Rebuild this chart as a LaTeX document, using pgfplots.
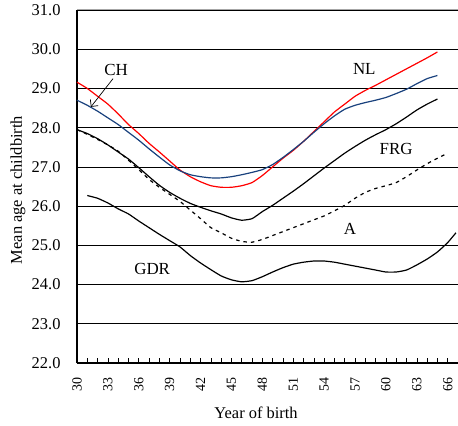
\documentclass[border=0pt]{standalone}
\usepackage{pgfplots}
\pgfplotsset{compat=1.18}
\usetikzlibrary{arrows.meta}
\usepackage{fontspec}
\setmainfont{Liberation Serif}
\definecolor{chblue}{RGB}{25,65,125}
\begin{document}
\begin{tikzpicture}
\path[use as bounding box] (-77bp,-63bp) rectangle (381bp,363bp);
\begin{axis}[
  at={(0,0)}, anchor=south west,
  scale only axis, width=381bp, height=353bp,
  xmin=30, xmax=67, ymin=22, ymax=31,
  xtick={30,33,...,66}, minor xtick={30,...,66},
  ytick={22,23,...,31},
  yticklabel={\pgfmathprintnumber[fixed,fixed zerofill,precision=1]{\tick}},
  /pgf/number format/assume math mode=true,
  tick align=inside,
  major tick length=5bp, minor tick length=5bp,
  ytick style={draw=none},
  xtick style={black, line width=0.6pt},
  minor x tick style={black, line width=0.6pt},
  xticklabel style={rotate=90, anchor=east, font=\fontsize{14}{14}\selectfont},
  yticklabel style={font=\fontsize{16.5}{16.5}\selectfont},
  xticklabel shift=11bp, yticklabel shift=13bp,
  ymajorgrids, grid style={black, line width=0.6pt},
  axis x line*=bottom, axis y line*=left,
  axis line style={black, line width=1.3pt},
  x axis line style={-}, y axis line style={-},
  xlabel={Year of birth}, ylabel={Mean age at childbirth},
  label style={font=\fontsize{16.5}{16.5}\selectfont},
  xlabel style={at={(axis description cs:0.47,0)}, anchor=base, yshift=-55bp},
  ylabel style={at={(axis description cs:-0.1444,0.49)}, anchor=base},
  clip=false,
]
\draw[gray!70, line width=1pt] (axis cs:30,31) -- (axis cs:67,31);
% NL
\addplot[red, line width=1.2pt, smooth, tension=0.3] coordinates {
(30,29.16)(31,29.0)(32,28.8)(33,28.6)(34,28.35)(35,28.08)(36,27.85)(37,27.6)(38,27.38)(39,27.15)(40,26.92)(41,26.75)(42,26.62)(43,26.52)(44,26.48)(45,26.48)(46,26.52)(47,26.6)(48,26.78)(49,27.0)(50,27.22)(51,27.42)(52,27.65)(53,27.9)(54,28.15)(55,28.4)(56,28.6)(57,28.8)(58,28.95)(59,29.08)(60,29.22)(61,29.36)(62,29.5)(63,29.64)(64,29.78)(65,29.93)};
% CH
\addplot[chblue, line width=1.2pt, smooth, tension=0.3] coordinates {
(30,28.70)(31,28.57)(32,28.42)(33,28.25)(34,28.08)(35,27.88)(36,27.68)(37,27.46)(38,27.25)(39,27.05)(40,26.9)(41,26.8)(42,26.75)(43,26.72)(44,26.72)(45,26.75)(46,26.8)(47,26.86)(48,26.93)(49,27.06)(50,27.24)(51,27.44)(52,27.65)(53,27.88)(54,28.1)(55,28.3)(56,28.47)(57,28.57)(58,28.64)(59,28.7)(60,28.77)(61,28.87)(62,28.98)(63,29.12)(64,29.25)(65,29.33)};
% FRG
\addplot[black, line width=1.2pt, smooth, tension=0.3] coordinates {
(30,27.95)(31,27.85)(32,27.72)(33,27.56)(34,27.38)(35,27.2)(36,26.98)(37,26.75)(38,26.53)(39,26.35)(40,26.2)(41,26.07)(42,25.97)(43,25.88)(44,25.8)(45,25.7)(46,25.64)(47,25.68)(48,25.86)(49,26.02)(50,26.2)(51,26.38)(52,26.57)(53,26.77)(54,26.97)(55,27.16)(56,27.35)(57,27.52)(58,27.68)(59,27.82)(60,27.95)(61,28.1)(62,28.27)(63,28.45)(64,28.6)(65,28.73)};
% A
\addplot[black, line width=1.2pt, dash pattern=on 3.5bp off 4bp, smooth, tension=0.3] coordinates {
(30,27.95)(31,27.83)(32,27.7)(33,27.56)(34,27.4)(35,27.17)(36,26.93)(37,26.68)(38,26.48)(39,26.3)(40,26.12)(41,25.9)(42,25.68)(43,25.45)(44,25.32)(45,25.18)(46,25.1)(47,25.08)(48,25.15)(49,25.25)(50,25.35)(51,25.45)(52,25.55)(53,25.65)(54,25.75)(55,25.88)(56,26.02)(57,26.2)(58,26.35)(59,26.45)(60,26.52)(61,26.6)(62,26.75)(63,26.92)(64,27.08)(65,27.22)(66,27.35)};
% GDR
\addplot[black, line width=1.2pt, smooth, tension=0.3] coordinates {
(31,26.27)(32,26.2)(33,26.08)(34,25.93)(35,25.8)(36,25.62)(37,25.45)(38,25.28)(39,25.12)(40,24.96)(41,24.74)(42,24.55)(43,24.38)(44,24.22)(45,24.12)(46,24.07)(47,24.1)(48,24.2)(49,24.32)(50,24.43)(51,24.52)(52,24.57)(53,24.6)(54,24.6)(55,24.57)(56,24.52)(57,24.47)(58,24.42)(59,24.37)(60,24.32)(61,24.32)(62,24.37)(63,24.5)(64,24.65)(65,24.83)(66,25.07)(66.8,25.32)};
\node[font=\fontsize{17}{17}\selectfont] at (axis cs:33.8,29.47) {CH};
\draw[-{Straight Barb[length=5bp]}, line width=0.7pt] (axis cs:33.5,29.25) -- (axis cs:31.35,28.53);
\node[font=\fontsize{17}{17}\selectfont] at (axis cs:57.9,29.5) {NL};
\node[font=\fontsize{17}{17}\selectfont] at (axis cs:61.0,27.45) {FRG};
\node[font=\fontsize{17}{17}\selectfont] at (axis cs:56.5,25.42) {A};
\node[font=\fontsize{17}{17}\selectfont] at (axis cs:37.3,24.4) {GDR};
\end{axis}
\end{tikzpicture}
\end{document}
